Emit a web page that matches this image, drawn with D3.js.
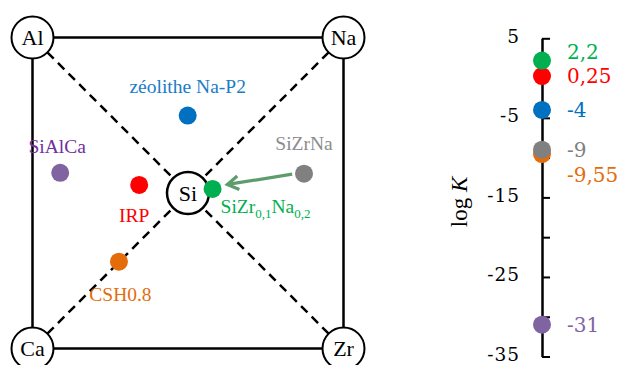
<!DOCTYPE html>
<html><head><meta charset="utf-8">
<script src="https://cdn.jsdelivr.net/npm/d3@7"></script>
<style>
html,body{margin:0;padding:0;background:#fff;}
svg{display:block;}
</style></head>
<body>
<svg id="chart" width="625" height="365"></svg>
<script>
// ---- data ----
const corners = ["Al", "Na", "Ca", "Zr"];          // corners of the composition square
const centerLabel = "Si";
const phases = ["zéolithe Na-P2", "SiAlCa", "IRP", "SiZr0,1Na0,2", "CSH0.8", "SiZrNa"];
const phaseX = [0.499, 0.089, 0.343, 0.579, 0.278, 0.873];   // position in square (0 = Al/Ca side, 1 = Na/Zr side)
const phaseY = [0.251, 0.435, 0.474, 0.487, 0.721, 0.438];   // position in square (0 = top, 1 = bottom)
const phaseColors = ["#0070c0", "#8064a2", "#ff0000", "#00b050", "#e46c0a", "#808080"];
const logK = [-4, -31, 0.25, 2.2, -9.55, -9];
const logKLabels = ["-4", "-31", "0,25", "2,2", "-9,55", "-9"];
const tickValues = [5, 0, -5, -10, -15, -20, -25, -30, -35];
const tickLabels = [5, -5, -15, -25, -35];

// ---- layout ----
const svg = d3.select("#chart");
const sx = d3.scaleLinear().domain([0, 1]).range([32.5, 343.5]);
const sy = d3.scaleLinear().domain([0, 1]).range([37.5, 348.5]);
const R = 21, dotR = 9;
const serif = "'Liberation Serif', serif";
const numFont = "'DejaVu Serif', serif";

const cornerPos = [[0,0],[1,0],[0,1],[1,1]];
const cx = sx(0.5), cy = sy(0.5);
const iGreen = phases.indexOf("SiZr0,1Na0,2"), iGray = phases.indexOf("SiZrNa");

// square
svg.append("rect").attr("x", sx(0)).attr("y", sy(0))
  .attr("width", sx(1)-sx(0)).attr("height", sy(1)-sy(0))
  .attr("fill", "none").attr("stroke", "#000").attr("stroke-width", 2.5);

// dashed diagonals (corner circle edge to Si circle edge)
cornerPos.forEach(([u,v]) => {
  const x0 = sx(u), y0 = sy(v);
  const dx = cx - x0, dy = cy - y0, L = Math.hypot(dx, dy);
  const ux = dx/L, uy = dy/L;
  svg.append("line")
    .attr("x1", x0 + ux*R).attr("y1", y0 + uy*R)
    .attr("x2", cx - ux*R).attr("y2", cy - uy*R)
    .attr("stroke", "#000").attr("stroke-width", 2.5)
    .attr("stroke-dasharray", "9,6");
});

// corner circles
const cg = svg.selectAll("g.corner").data(corners).join("g").attr("class","corner")
  .attr("transform", (d,i) => `translate(${sx(cornerPos[i][0])},${sy(cornerPos[i][1])})`);
cg.append("circle").attr("r", R).attr("fill", "#fff").attr("stroke", "#000").attr("stroke-width", 2);
cg.append("text").text(d => d).attr("text-anchor", "middle").attr("dy", "0.35em")
  .attr("font-family", serif).attr("font-size", 22).attr("fill", "#000");

// centre circle
const sg = svg.append("g").attr("transform", `translate(${cx},${cy})`);
sg.append("circle").attr("r", R).attr("fill", "#fff").attr("stroke", "#000").attr("stroke-width", 2.5);
sg.append("text").text(centerLabel).attr("text-anchor", "middle").attr("dy", "0.35em")
  .attr("font-family", serif).attr("font-size", 22);

// arrow from SiZrNa to SiZr0,1Na0,2
{
  const gx = sx(phaseX[iGray]), gy = sy(phaseY[iGray]);
  const tx = sx(phaseX[iGreen]), ty = sy(phaseY[iGreen]);
  const dx = tx - gx, dy = ty - gy, L = Math.hypot(dx, dy);
  const ux = dx/L, uy = dy/L;
  const x1 = gx + ux*12, y1 = gy + uy*12 - 1.5;
  const x2 = tx - ux*15, y2 = ty - uy*15 - 2;
  const a = Math.atan2(y2 - y1, x2 - x1), h = 13, sp = 0.55;
  const col = "#5e9c6e";
  svg.append("line").attr("x1", x1).attr("y1", y1).attr("x2", x2 - Math.cos(a)*2).attr("y2", y2 - Math.sin(a)*2)
    .attr("stroke", col).attr("stroke-width", 3.2);
  svg.append("path")
    .attr("d", `M${x2 - h*Math.cos(a - sp)},${y2 - h*Math.sin(a - sp)} L${x2},${y2} L${x2 - h*Math.cos(a + sp)},${y2 - h*Math.sin(a + sp)}`)
    .attr("fill", "none").attr("stroke", col).attr("stroke-width", 3.2).attr("stroke-linejoin", "miter");
}

// phase dots
svg.selectAll("circle.phase").data(phases).join("circle").attr("class", "phase")
  .attr("cx", (d,i) => sx(phaseX[i])).attr("cy", (d,i) => sy(phaseY[i]))
  .attr("r", dotR).attr("fill", (d,i) => phaseColors[i]);

// phase labels (offsets relative to dots)
const labOff = [[0,-22.5,"middle"],[-3,-20,"middle"],[-5,36.7,"middle"],[8,24.5,"start"],[1.5,39.5,"middle"],[0,-23.5,"middle"]];
const labColors = ["#1a7cc6", "#7030a0", "#ff0000", "#00b050", "#e46c0a", "#8c8c8c"];
phases.forEach((name, i) => {
  const t = svg.append("text")
    .attr("x", sx(phaseX[i]) + labOff[i][0]).attr("y", sy(phaseY[i]) + labOff[i][1])
    .attr("text-anchor", labOff[i][2]).attr("font-family", serif).attr("font-size", 19.5)
    .attr("fill", labColors[i]);
  const m = name.match(/^SiZr([\d,]+)Na([\d,]+)$/);
  if (m) {
    t.append("tspan").text("SiZr");
    t.append("tspan").text(m[1]).attr("font-size", 13).attr("dy", 5);
    t.append("tspan").text("Na").attr("dy", -5);
    t.append("tspan").text(m[2]).attr("font-size", 13).attr("dy", 5);
  } else t.text(name);
});

// ---- log K axis ----
const ay = d3.scaleLinear().domain([5, -35]).range([38.3, 356.5]);
const axX = 542;
const axis = d3.axisLeft(ay).tickValues(tickValues)
  .tickSizeInner(-8).tickSizeOuter(0).tickPadding(22)
  .tickFormat(d => tickLabels.includes(d) ? String(d) : "");
const ag = svg.append("g").attr("transform", `translate(${axX},0)`).call(axis);
ag.select(".domain").attr("stroke", "#000").attr("stroke-width", 2.5);
ag.selectAll(".tick line").attr("stroke", "#000").attr("stroke-width", 2);
ag.selectAll(".tick text").attr("font-family", numFont).attr("font-size", 18.5)
  .attr("letter-spacing", 1).attr("fill", "#000").attr("dy", "0.2em");

svg.append("text").attr("transform", `translate(467,202) rotate(-90)`)
  .attr("text-anchor", "middle").attr("font-family", serif).attr("font-size", 23)
  .call(t => { t.append("tspan").text("log "); t.append("tspan").text("K").attr("font-style", "italic"); });

// dots on axis
svg.selectAll("circle.k").data(logK).join("circle").attr("class", "k")
  .attr("cx", axX).attr("cy", d => ay(d)).attr("r", dotR)
  .attr("fill", (d,i) => phaseColors[i]);

// value labels
const valDy = [0, 0, 0, -8.5, 21, 0];
svg.selectAll("text.kl").data(logKLabels).join("text").attr("class", "kl")
  .attr("x", 567).attr("y", (d,i) => ay(logK[i]) + valDy[i]).attr("dy", "0.36em")
  .attr("font-family", numFont).attr("font-size", 20)
  .attr("fill", (d,i) => phaseColors[i]).text(d => d);
</script>
</body></html>
